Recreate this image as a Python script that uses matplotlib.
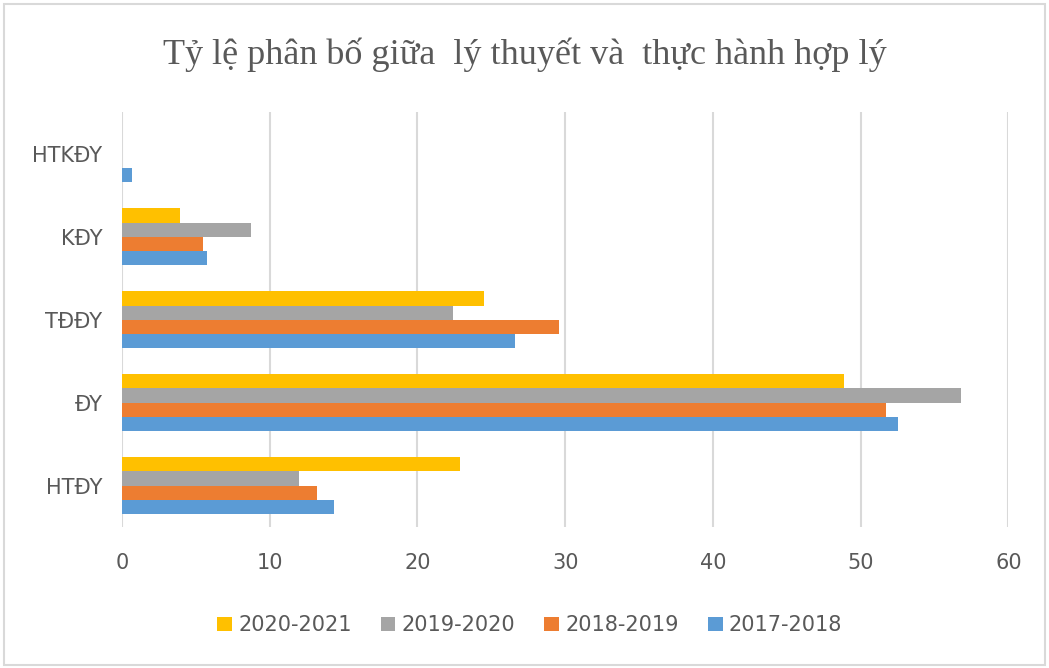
import matplotlib
matplotlib.use("Agg")
import matplotlib.pyplot as plt
import numpy as np
from matplotlib.patches import Rectangle

categories = ["HTĐY", "ĐY", "TĐĐY", "KĐY", "HTKĐY"]
series_names = ["2017-2018", "2018-2019", "2019-2020", "2020-2021"]
v2017 = [14.35, 52.5, 26.6, 5.75, 0.7]
v2018 = [13.2, 51.7, 29.6, 5.45, 0.0]
v2019 = [12.0, 56.8, 22.4, 8.75, 0.0]
v2020 = [22.85, 48.9, 24.5, 3.95, 0.0]
colors = ["#5B9BD5", "#ED7D31", "#A5A5A5", "#FFC000"]
xticks = [0, 10, 20, 30, 40, 50, 60]

tick_font = ["Liberation Sans Narrow", "DejaVu Sans"]

fig = plt.figure(figsize=(10.49, 6.68), dpi=100)
ax = fig.add_axes([0.1163, 0.211, 0.845, 0.621])

y = np.arange(len(categories))
h = 0.17
allvals = [v2017, v2018, v2019, v2020]
handles = []
for i, (vals, c, name) in enumerate(zip(allvals, colors, series_names)):
    b = ax.barh(y + (i - 1.5) * h, vals, height=h, color=c, linewidth=0,
                label=name, zorder=3)
    handles.append(b)

ax.set_xlim(0, 60)
ax.set_ylim(-0.5, len(categories) - 0.5)
ax.set_xticks(xticks)
ax.set_xticklabels([str(t) for t in xticks], family=tick_font, fontsize=15, color="#595959")
ax.set_yticks(y)
ax.set_yticklabels(categories, family=tick_font, fontsize=15, color="#595959")
ax.tick_params(axis="both", length=0)
ax.tick_params(axis="x", pad=19)
ax.tick_params(axis="y", pad=14)
for s in ax.spines.values():
    s.set_visible(False)
ax.grid(axis="x", color="#D9D9D9", linewidth=1.5, zorder=0)
ax.set_axisbelow(True)

fig.text(0.5, 0.918, "Tỷ lệ phân bố giữa  lý thuyết và  thực hành hợp lý",
         ha="center", va="center", family=["Liberation Serif", "DejaVu Serif"],
         fontsize=26, color="#595959")

leg = fig.legend(handles[::-1], series_names[::-1], loc="center", bbox_to_anchor=(0.505, 0.064),
                 ncol=4, frameon=False, prop={"family": tick_font, "size": 15},
                 handlelength=0.7, handleheight=0.7, handletextpad=0.3, columnspacing=1.4)
for t in leg.get_texts():
    t.set_color("#595959")

fig.patches.append(Rectangle((0.004, 0.004), 0.992, 0.99, transform=fig.transFigure,
                             fill=False, edgecolor="#D9D9D9", linewidth=1.5))

fig.savefig("out.png", dpi=100)
